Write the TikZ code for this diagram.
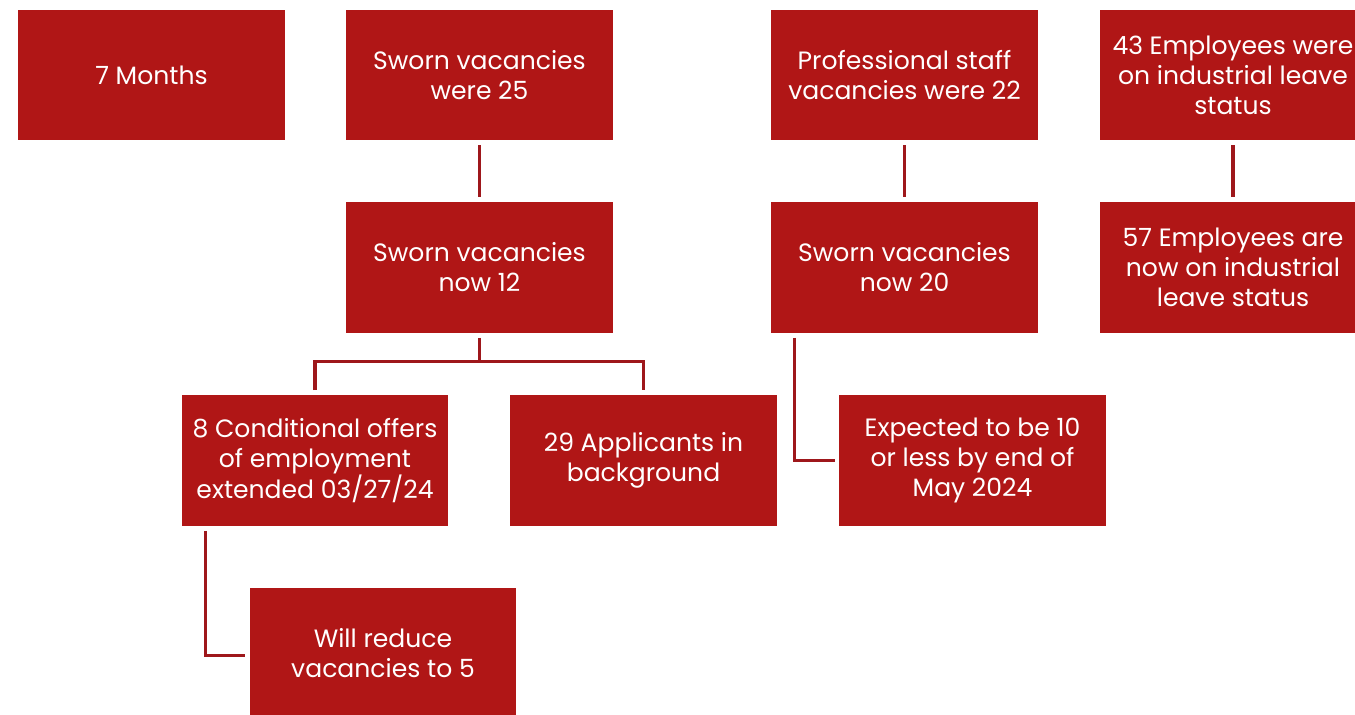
\documentclass[tikz,border=0pt]{standalone}
\usepackage{fontspec}
\setmainfont{Poppins}
\definecolor{boxred}{HTML}{B01616}
\definecolor{linered}{HTML}{9E171B}
\tikzset{
  box/.style={fill=boxred, text=white, minimum width=200pt, minimum height=98pt,
    align=center, inner sep=0pt, font=\fontsize{18.8}{22.5}\selectfont},
  conn/.style={draw=linered, line width=2.3pt}
}
\begin{document}
\begin{tikzpicture}[x=0.75pt,y=-0.75pt]
\useasboundingbox (0,0) rectangle (1355,714);
\begin{scope}
\clip (0,0) rectangle (1355,714);
\node[box] (months) at (151.5,75) {7 Months};
\node[box] (were25) at (479.5,75) {Sworn vacancies\\were 25};
\node[box] (prof) at (904.5,75) {Professional staff\\vacancies were 22};
\node[box] (emp43) at (1233,75) {43 Employees were\\on industrial leave\\status};
\node[box] (now12) at (479.5,267.5) {Sworn vacancies\\now 12};
\node[box] (now20) at (904.5,267.5) {Sworn vacancies\\now 20};
\node[box] (emp57) at (1233,267.5) {57 Employees are\\now on industrial\\leave status};
\node[box] (cond) at (315,460.5) {8 Conditional offers\\of employment\\extended 03/27/24};
\node[box] (appl) at (643.5,460.5) {29 Applicants in\\background};
\node[box] (expect) at (972.5,460.5) {Expected to be 10\\or less by end of\\May 2024};
\node[box] (reduce) at (383,653.5) {Will reduce\\vacancies to 5};

\draw[conn] ([yshift=-3.5pt]were25.south) -- ([yshift=3.5pt]now12.north);
\draw[conn] ([yshift=-3.5pt]prof.south) -- ([yshift=3.5pt]now20.north);
\draw[conn] ([yshift=-3.5pt]emp43.south) -- ([yshift=3.5pt]emp57.north);
\draw[conn] ([yshift=-3.5pt]now12.south) -- ++(0,24) coordinate (fork);
\draw[conn] ([yshift=3.5pt]cond.north) |- (fork) -| ([yshift=3.5pt]appl.north);
\draw[conn] ([xshift=18pt,yshift=-3.5pt]now20.south west) |- ([xshift=-3pt]expect.west);
\draw[conn] ([xshift=18pt,yshift=-3.5pt]cond.south west) |- ([xshift=-3pt,yshift=-1.5pt]reduce.west);
\end{scope}
\end{tikzpicture}
\end{document}
